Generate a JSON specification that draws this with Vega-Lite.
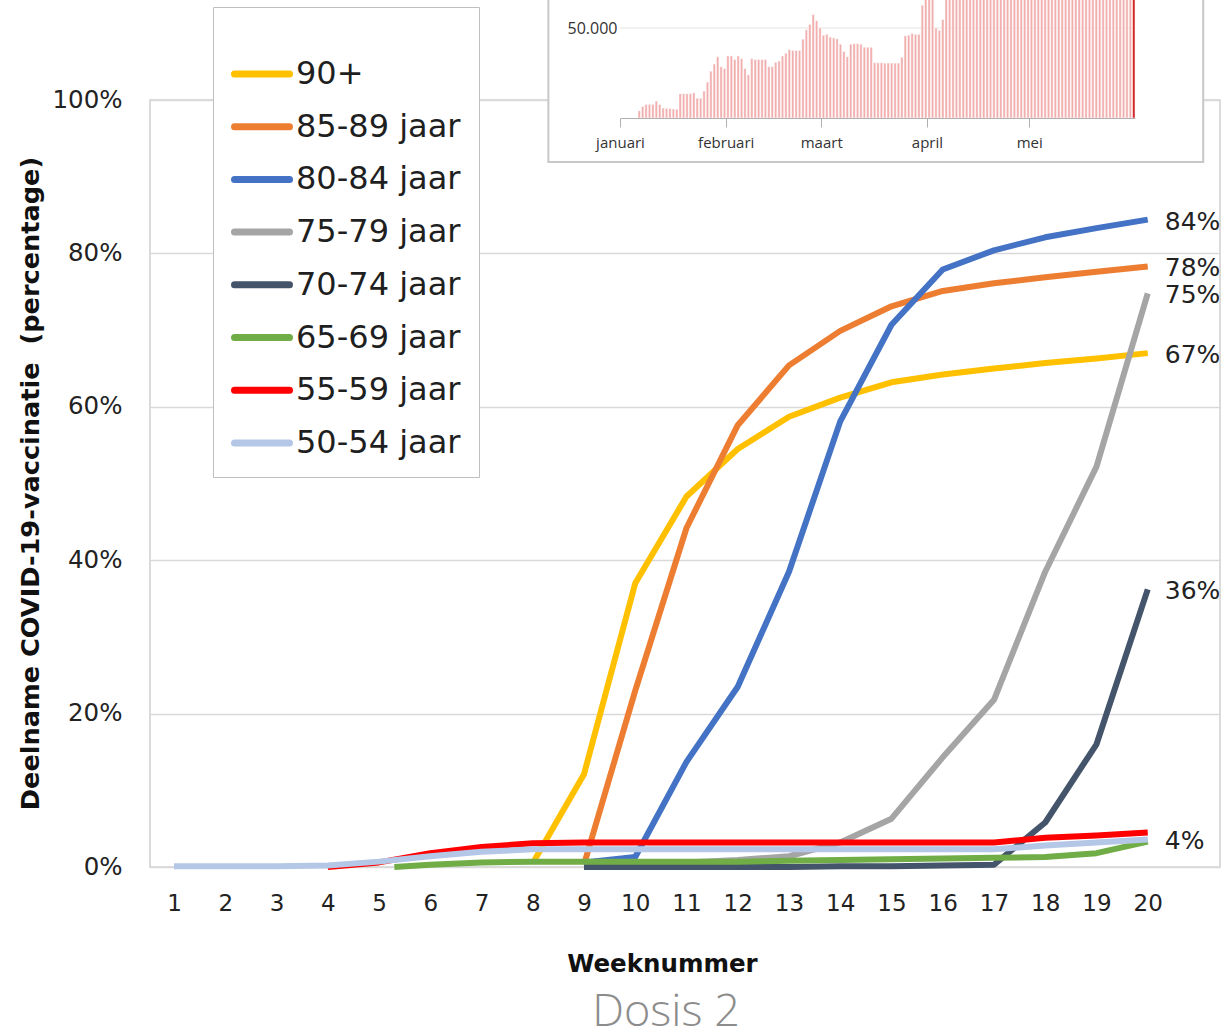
{
  "$schema": "https://vega.github.io/schema/vega-lite/v6.json",
  "width": 1070,
  "height": 767,
  "autosize": {"type": "none"},
  "padding": {"left": 150, "top": 100, "right": 9, "bottom": 168},
  "background": "white",
  "config": {"view": {"stroke": "#d0d0d0", "strokeWidth": 1.5}, "font": "DejaVu Sans"},
  "title": {"text": "Dosis 2", "orient": "bottom", "anchor": "middle", "dx": -19, "offset": 14, "font": "Open Sans", "fontSize": 45, "fontWeight": 300, "color": "#8c8c8c"},
  "datasets": {
    "uptake": [
      {"group": "90+", "week": 8, "share": 0.005},
      {"group": "90+", "week": 9, "share": 0.121},
      {"group": "90+", "week": 10, "share": 0.37},
      {"group": "90+", "week": 11, "share": 0.483},
      {"group": "90+", "week": 12, "share": 0.545},
      {"group": "90+", "week": 13, "share": 0.587},
      {"group": "90+", "week": 14, "share": 0.612},
      {"group": "90+", "week": 15, "share": 0.632},
      {"group": "90+", "week": 16, "share": 0.642},
      {"group": "90+", "week": 17, "share": 0.65},
      {"group": "90+", "week": 18, "share": 0.657},
      {"group": "90+", "week": 19, "share": 0.663},
      {"group": "90+", "week": 20, "share": 0.67},
      {"group": "85-89 jaar", "week": 9, "share": 0.003},
      {"group": "85-89 jaar", "week": 10, "share": 0.23},
      {"group": "85-89 jaar", "week": 11, "share": 0.442},
      {"group": "85-89 jaar", "week": 12, "share": 0.576},
      {"group": "85-89 jaar", "week": 13, "share": 0.654},
      {"group": "85-89 jaar", "week": 14, "share": 0.699},
      {"group": "85-89 jaar", "week": 15, "share": 0.731},
      {"group": "85-89 jaar", "week": 16, "share": 0.751},
      {"group": "85-89 jaar", "week": 17, "share": 0.761},
      {"group": "85-89 jaar", "week": 18, "share": 0.769},
      {"group": "85-89 jaar", "week": 19, "share": 0.776},
      {"group": "85-89 jaar", "week": 20, "share": 0.783},
      {"group": "80-84 jaar", "week": 9, "share": 0.006},
      {"group": "80-84 jaar", "week": 10, "share": 0.013},
      {"group": "80-84 jaar", "week": 11, "share": 0.137},
      {"group": "80-84 jaar", "week": 12, "share": 0.235},
      {"group": "80-84 jaar", "week": 13, "share": 0.385},
      {"group": "80-84 jaar", "week": 14, "share": 0.581},
      {"group": "80-84 jaar", "week": 15, "share": 0.707},
      {"group": "80-84 jaar", "week": 16, "share": 0.779},
      {"group": "80-84 jaar", "week": 17, "share": 0.804},
      {"group": "80-84 jaar", "week": 18, "share": 0.821},
      {"group": "80-84 jaar", "week": 19, "share": 0.833},
      {"group": "80-84 jaar", "week": 20, "share": 0.844},
      {"group": "75-79 jaar", "week": 10, "share": 0.005},
      {"group": "75-79 jaar", "week": 11, "share": 0.006},
      {"group": "75-79 jaar", "week": 12, "share": 0.009},
      {"group": "75-79 jaar", "week": 13, "share": 0.014},
      {"group": "75-79 jaar", "week": 14, "share": 0.032},
      {"group": "75-79 jaar", "week": 15, "share": 0.063},
      {"group": "75-79 jaar", "week": 16, "share": 0.143},
      {"group": "75-79 jaar", "week": 17, "share": 0.218},
      {"group": "75-79 jaar", "week": 18, "share": 0.385},
      {"group": "75-79 jaar", "week": 19, "share": 0.522},
      {"group": "75-79 jaar", "week": 20, "share": 0.748},
      {"group": "70-74 jaar", "week": 9, "share": 0},
      {"group": "70-74 jaar", "week": 10, "share": 0},
      {"group": "70-74 jaar", "week": 11, "share": 0},
      {"group": "70-74 jaar", "week": 12, "share": 0},
      {"group": "70-74 jaar", "week": 13, "share": 0},
      {"group": "70-74 jaar", "week": 14, "share": 0.001},
      {"group": "70-74 jaar", "week": 15, "share": 0.001},
      {"group": "70-74 jaar", "week": 16, "share": 0.002},
      {"group": "70-74 jaar", "week": 17, "share": 0.003},
      {"group": "70-74 jaar", "week": 18, "share": 0.058},
      {"group": "70-74 jaar", "week": 19, "share": 0.16},
      {"group": "70-74 jaar", "week": 20, "share": 0.362},
      {"group": "65-69 jaar", "week": 5.3, "share": 0},
      {"group": "65-69 jaar", "week": 6, "share": 0.003},
      {"group": "65-69 jaar", "week": 7, "share": 0.006},
      {"group": "65-69 jaar", "week": 8, "share": 0.007},
      {"group": "65-69 jaar", "week": 9, "share": 0.007},
      {"group": "65-69 jaar", "week": 10, "share": 0.007},
      {"group": "65-69 jaar", "week": 11, "share": 0.007},
      {"group": "65-69 jaar", "week": 12, "share": 0.007},
      {"group": "65-69 jaar", "week": 13, "share": 0.008},
      {"group": "65-69 jaar", "week": 14, "share": 0.009},
      {"group": "65-69 jaar", "week": 15, "share": 0.01},
      {"group": "65-69 jaar", "week": 16, "share": 0.011},
      {"group": "65-69 jaar", "week": 17, "share": 0.012},
      {"group": "65-69 jaar", "week": 18, "share": 0.013},
      {"group": "65-69 jaar", "week": 19, "share": 0.018},
      {"group": "65-69 jaar", "week": 20, "share": 0.033},
      {"group": "55-59 jaar", "week": 4, "share": 0},
      {"group": "55-59 jaar", "week": 5, "share": 0.006},
      {"group": "55-59 jaar", "week": 6, "share": 0.018},
      {"group": "55-59 jaar", "week": 7, "share": 0.026},
      {"group": "55-59 jaar", "week": 8, "share": 0.031},
      {"group": "55-59 jaar", "week": 9, "share": 0.032},
      {"group": "55-59 jaar", "week": 10, "share": 0.032},
      {"group": "55-59 jaar", "week": 11, "share": 0.032},
      {"group": "55-59 jaar", "week": 12, "share": 0.032},
      {"group": "55-59 jaar", "week": 13, "share": 0.032},
      {"group": "55-59 jaar", "week": 14, "share": 0.032},
      {"group": "55-59 jaar", "week": 15, "share": 0.032},
      {"group": "55-59 jaar", "week": 16, "share": 0.032},
      {"group": "55-59 jaar", "week": 17, "share": 0.032},
      {"group": "55-59 jaar", "week": 18, "share": 0.038},
      {"group": "55-59 jaar", "week": 19, "share": 0.041},
      {"group": "55-59 jaar", "week": 20, "share": 0.045},
      {"group": "50-54 jaar", "week": 1, "share": 0.001},
      {"group": "50-54 jaar", "week": 2, "share": 0.001},
      {"group": "50-54 jaar", "week": 3, "share": 0.001},
      {"group": "50-54 jaar", "week": 4, "share": 0.002},
      {"group": "50-54 jaar", "week": 5, "share": 0.007},
      {"group": "50-54 jaar", "week": 6, "share": 0.014},
      {"group": "50-54 jaar", "week": 7, "share": 0.02},
      {"group": "50-54 jaar", "week": 8, "share": 0.023},
      {"group": "50-54 jaar", "week": 9, "share": 0.023},
      {"group": "50-54 jaar", "week": 10, "share": 0.023},
      {"group": "50-54 jaar", "week": 11, "share": 0.023},
      {"group": "50-54 jaar", "week": 12, "share": 0.023},
      {"group": "50-54 jaar", "week": 13, "share": 0.023},
      {"group": "50-54 jaar", "week": 14, "share": 0.023},
      {"group": "50-54 jaar", "week": 15, "share": 0.023},
      {"group": "50-54 jaar", "week": 16, "share": 0.023},
      {"group": "50-54 jaar", "week": 17, "share": 0.023},
      {"group": "50-54 jaar", "week": 18, "share": 0.028},
      {"group": "50-54 jaar", "week": 19, "share": 0.032},
      {"group": "50-54 jaar", "week": 20, "share": 0.036}
    ],
    "daily": [
      {"date": "2021-01-06", "doses": 4000}, {"date": "2021-01-07", "doses": 6400}, {"date": "2021-01-08", "doses": 7500},
      {"date": "2021-01-09", "doses": 7600}, {"date": "2021-01-10", "doses": 7600}, {"date": "2021-01-11", "doses": 9400},
      {"date": "2021-01-12", "doses": 7500}, {"date": "2021-01-13", "doses": 5500}, {"date": "2021-01-14", "doses": 5300},
      {"date": "2021-01-15", "doses": 5300}, {"date": "2021-01-16", "doses": 5000}, {"date": "2021-01-17", "doses": 4800},
      {"date": "2021-01-18", "doses": 13500}, {"date": "2021-01-19", "doses": 13500}, {"date": "2021-01-20", "doses": 13500},
      {"date": "2021-01-21", "doses": 13500}, {"date": "2021-01-22", "doses": 14000}, {"date": "2021-01-23", "doses": 11000},
      {"date": "2021-01-24", "doses": 11000}, {"date": "2021-01-25", "doses": 15000}, {"date": "2021-01-26", "doses": 20000},
      {"date": "2021-01-27", "doses": 26000}, {"date": "2021-01-28", "doses": 30000}, {"date": "2021-01-29", "doses": 34000},
      {"date": "2021-01-30", "doses": 28500}, {"date": "2021-01-31", "doses": 27500}, {"date": "2021-02-01", "doses": 34500},
      {"date": "2021-02-02", "doses": 34500}, {"date": "2021-02-03", "doses": 32500}, {"date": "2021-02-04", "doses": 34500},
      {"date": "2021-02-05", "doses": 33000}, {"date": "2021-02-06", "doses": 27500}, {"date": "2021-02-07", "doses": 24000},
      {"date": "2021-02-08", "doses": 33000}, {"date": "2021-02-09", "doses": 32500}, {"date": "2021-02-10", "doses": 32500},
      {"date": "2021-02-11", "doses": 32500}, {"date": "2021-02-12", "doses": 32500}, {"date": "2021-02-13", "doses": 28500},
      {"date": "2021-02-14", "doses": 28500}, {"date": "2021-02-15", "doses": 31000}, {"date": "2021-02-16", "doses": 31600},
      {"date": "2021-02-17", "doses": 34500}, {"date": "2021-02-18", "doses": 36000}, {"date": "2021-02-19", "doses": 38000},
      {"date": "2021-02-20", "doses": 37500}, {"date": "2021-02-21", "doses": 37500}, {"date": "2021-02-22", "doses": 37500},
      {"date": "2021-02-23", "doses": 43800}, {"date": "2021-02-24", "doses": 49000}, {"date": "2021-02-25", "doses": 52000},
      {"date": "2021-02-26", "doses": 57500}, {"date": "2021-02-27", "doses": 54000}, {"date": "2021-02-28", "doses": 50000},
      {"date": "2021-03-01", "doses": 46000}, {"date": "2021-03-02", "doses": 46500}, {"date": "2021-03-03", "doses": 45000},
      {"date": "2021-03-04", "doses": 44500}, {"date": "2021-03-05", "doses": 44000}, {"date": "2021-03-06", "doses": 41000},
      {"date": "2021-03-07", "doses": 37000}, {"date": "2021-03-08", "doses": 34000}, {"date": "2021-03-09", "doses": 41000},
      {"date": "2021-03-10", "doses": 41300}, {"date": "2021-03-11", "doses": 41300}, {"date": "2021-03-12", "doses": 41000},
      {"date": "2021-03-13", "doses": 39300}, {"date": "2021-03-14", "doses": 39300}, {"date": "2021-03-15", "doses": 39300},
      {"date": "2021-03-16", "doses": 30700}, {"date": "2021-03-17", "doses": 30700}, {"date": "2021-03-18", "doses": 30700},
      {"date": "2021-03-19", "doses": 30500}, {"date": "2021-03-20", "doses": 30500}, {"date": "2021-03-21", "doses": 30500},
      {"date": "2021-03-22", "doses": 30500}, {"date": "2021-03-23", "doses": 30500}, {"date": "2021-03-24", "doses": 33700},
      {"date": "2021-03-25", "doses": 45700}, {"date": "2021-03-26", "doses": 46000}, {"date": "2021-03-27", "doses": 47000},
      {"date": "2021-03-28", "doses": 46500}, {"date": "2021-03-29", "doses": 46500}, {"date": "2021-03-30", "doses": 62700},
      {"date": "2021-03-31", "doses": 70000}, {"date": "2021-04-01", "doses": 70000}, {"date": "2021-04-02", "doses": 70000},
      {"date": "2021-04-03", "doses": 50000}, {"date": "2021-04-04", "doses": 48700}, {"date": "2021-04-05", "doses": 54700},
      {"date": "2021-04-06", "doses": 80000}, {"date": "2021-04-07", "doses": 95000}, {"date": "2021-04-08", "doses": 100000},
      {"date": "2021-04-09", "doses": 105000}, {"date": "2021-04-10", "doses": 90000}, {"date": "2021-04-11", "doses": 85000},
      {"date": "2021-04-12", "doses": 95000}, {"date": "2021-04-13", "doses": 100000}, {"date": "2021-04-14", "doses": 110000},
      {"date": "2021-04-15", "doses": 112000}, {"date": "2021-04-16", "doses": 115000}, {"date": "2021-04-17", "doses": 100000},
      {"date": "2021-04-18", "doses": 90000}, {"date": "2021-04-19", "doses": 105000}, {"date": "2021-04-20", "doses": 110000},
      {"date": "2021-04-21", "doses": 112000}, {"date": "2021-04-22", "doses": 118000}, {"date": "2021-04-23", "doses": 120000},
      {"date": "2021-04-24", "doses": 105000}, {"date": "2021-04-25", "doses": 95000}, {"date": "2021-04-26", "doses": 110000},
      {"date": "2021-04-27", "doses": 90000}, {"date": "2021-04-28", "doses": 115000}, {"date": "2021-04-29", "doses": 125000},
      {"date": "2021-04-30", "doses": 128000}, {"date": "2021-05-01", "doses": 110000}, {"date": "2021-05-02", "doses": 100000},
      {"date": "2021-05-03", "doses": 125000}, {"date": "2021-05-04", "doses": 120000}, {"date": "2021-05-05", "doses": 118000},
      {"date": "2021-05-06", "doses": 130000}, {"date": "2021-05-07", "doses": 135000}, {"date": "2021-05-08", "doses": 120000},
      {"date": "2021-05-09", "doses": 110000}, {"date": "2021-05-10", "doses": 130000}, {"date": "2021-05-11", "doses": 135000},
      {"date": "2021-05-12", "doses": 140000}, {"date": "2021-05-13", "doses": 120000}, {"date": "2021-05-14", "doses": 138000},
      {"date": "2021-05-15", "doses": 125000}, {"date": "2021-05-16", "doses": 115000}, {"date": "2021-05-17", "doses": 140000},
      {"date": "2021-05-18", "doses": 145000}, {"date": "2021-05-19", "doses": 150000}, {"date": "2021-05-20", "doses": 155000},
      {"date": "2021-05-21", "doses": 160000}, {"date": "2021-05-22", "doses": 140000}, {"date": "2021-05-23", "doses": 130000},
      {"date": "2021-05-24", "doses": 120000}, {"date": "2021-05-25", "doses": 155000}, {"date": "2021-05-26", "doses": 160000},
      {"date": "2021-05-27", "doses": 165000}, {"date": "2021-05-28", "doses": 170000}, {"date": "2021-05-29", "doses": 150000},
      {"date": "2021-05-30", "doses": 140000}, {"date": "2021-05-31", "doses": 150000}
    ]
  },
  "layer": [
    {
      "data": {"name": "uptake"},
      "layer": [
        {
          "mark": {"type": "line", "strokeWidth": 6, "strokeJoin": "round"},
          "encoding": {
            "x": {
              "field": "week", "type": "quantitative",
              "scale": {"domain": [0.532, 21.41], "nice": false, "zero": false},
              "axis": {
                "values": [1, 2, 3, 4, 5, 6, 7, 8, 9, 10, 11, 12, 13, 14, 15, 16, 17, 18, 19, 20],
                "format": "d", "grid": false, "domain": false, "ticks": false, "labelFlush": false,
                "labelFont": "DejaVu Sans", "labelFontSize": 23, "labelColor": "#222222", "labelPadding": 25,
                "title": "Weeknummer", "titleFont": "DejaVu Sans", "titleFontSize": 24.5, "titleFontWeight": "bold",
                "titleColor": "#111111", "titleX": 512, "titleY": 104, "titleAlign": "center", "titleBaseline": "alphabetic"
              }
            },
            "y": {
              "field": "share", "type": "quantitative",
              "scale": {"domain": [0, 1], "nice": false},
              "axis": {
                "values": [0, 0.2, 0.4, 0.6, 0.8, 1], "format": ".0%", "grid": true, "gridColor": "#d9d9d9", "gridWidth": 1.5,
                "domain": false, "ticks": false, "labelFlush": false,
                "labelFont": "DejaVu Sans", "labelFontSize": 24.5, "labelColor": "#222222", "labelPadding": 28,
                "title": "Deelname COVID-19-vaccinatie \u00a0(percentage)", "titleFont": "DejaVu Sans", "titleFontSize": 25.6,
                "titleFontWeight": "bold", "titleColor": "#111111", "titleX": -120, "titleY": 383, "titleAngle": 270,
                "titleAlign": "center", "titleBaseline": "middle"
              }
            },
            "color": {
              "field": "group", "type": "nominal",
              "scale": {
                "domain": ["90+", "85-89 jaar", "80-84 jaar", "75-79 jaar", "70-74 jaar", "65-69 jaar", "55-59 jaar", "50-54 jaar"],
                "range": ["#FFC000", "#ED7D31", "#4472C4", "#A5A5A5", "#44546A", "#70AD47", "#FF0000", "#B4C7E7"]
              },
              "legend": {
                "orient": "none", "legendX": 63, "legendY": -93,
                "title": " ", "titleFontSize": 10, "titlePadding": 8,
                "padding": 18, "fillColor": "white", "strokeColor": "#bfbfbf",
                "symbolType": "stroke", "symbolSize": 3025, "symbolStrokeWidth": 7,
                "labelFont": "DejaVu Sans", "labelFontSize": 32, "labelColor": "#1f1f1f", "labelOffset": 3,
                "rowPadding": 5.7, "labelLimit": 400,
                "encode": {"symbols": {"update": {"strokeCap": {"value": "round"}}}}
              }
            }
          }
        },
        {
          "transform": [
            {"filter": {"field": "week", "equal": 20}},
            {"filter": {"field": "group", "oneOf": ["90+", "85-89 jaar", "80-84 jaar", "75-79 jaar", "70-74 jaar", "50-54 jaar"]}}
          ],
          "mark": {"type": "text", "align": "left", "baseline": "middle", "dx": 17, "dy": 2, "font": "DejaVu Sans", "fontSize": 25, "color": "#222222"},
          "encoding": {
            "x": {"field": "week", "type": "quantitative"},
            "y": {"field": "share", "type": "quantitative"},
            "text": {"field": "share", "type": "quantitative", "format": ".0%"}
          }
        }
      ]
    },
    {
      "layer": [
        {
          "data": {"values": [{}]},
          "mark": {"type": "rect", "fill": "white", "stroke": "#c8c8c8", "strokeWidth": 2},
          "encoding": {
            "x": {
              "datum": {"year": 2020, "month": 12, "date": 11, "utc": true}, "type": "temporal",
              "scale": {
                "type": "utc",
                "domain": [{"year": 2021, "month": 1, "date": 1, "utc": true}, {"year": 2021, "month": 6, "date": 1, "utc": true}],
                "range": [470, 985]
              },
              "axis": {
                "orient": "bottom", "offset": -749, "zindex": 1, "grid": false, "title": null,
                "values": [
                  {"year": 2021, "month": 1, "date": 1, "utc": true},
                  {"year": 2021, "month": 2, "date": 1, "utc": true},
                  {"year": 2021, "month": 3, "date": 1, "utc": true},
                  {"year": 2021, "month": 4, "date": 1, "utc": true},
                  {"year": 2021, "month": 5, "date": 1, "utc": true}
                ],
                "labelExpr": "['januari','februari','maart','april','mei','juni'][utcmonth(datum.value)]",
                "labelFlush": false, "labelFont": "Open Sans", "labelFontSize": 15, "labelColor": "#333333", "labelPadding": 8,
                "domainColor": "#b0b0b0", "domainWidth": 1, "tickColor": "#b0b0b0", "tickSize": 9, "tickWidth": 1
              }
            },
            "x2": {"datum": {"year": 2021, "month": 6, "date": 21, "utc": true}},
            "y": {
              "datum": -24444, "type": "quantitative",
              "scale": {"domain": [0, 50000], "range": [18, -72], "nice": false, "zero": false},
              "axis": {
                "orient": "left", "offset": -470, "zindex": 1, "grid": false, "title": null, "domain": false, "ticks": false,
                "values": [50000], "labelExpr": "'50.000'", "labelFont": "Open Sans", "labelFontSize": 16,
                "labelColor": "#333333", "labelPadding": 3, "labelFlush": false
              }
            },
            "y2": {"datum": 75000}
          }
        },
        {
          "data": {"values": [{}]},
          "mark": {"type": "rule", "color": "#e3e3e3", "strokeWidth": 1},
          "encoding": {
            "x": {"datum": {"year": 2021, "month": 1, "date": 1, "utc": true}, "type": "temporal", "scale": {"type": "utc"}},
            "x2": {"datum": {"year": 2021, "month": 6, "date": 1, "utc": true}},
            "y": {"datum": 50000, "type": "quantitative"}
          }
        },
        {
          "data": {"name": "daily"},
          "mark": {"type": "bar", "stroke": "white", "strokeWidth": 0.5},
          "encoding": {
            "x": {"field": "date", "type": "temporal", "timeUnit": "utcyearmonthdate", "scale": {"type": "utc"}},
            "y": {"field": "doses", "type": "quantitative"},
            "color": {"condition": {"test": "time(datum.date) === utc(2021,4,31)", "value": "#d42020"}, "value": "#f2aeae"}
          }
        }
      ]
    }
  ],
  "resolve": {"scale": {"x": "independent", "y": "independent"}, "axis": {"x": "independent", "y": "independent"}}
}
